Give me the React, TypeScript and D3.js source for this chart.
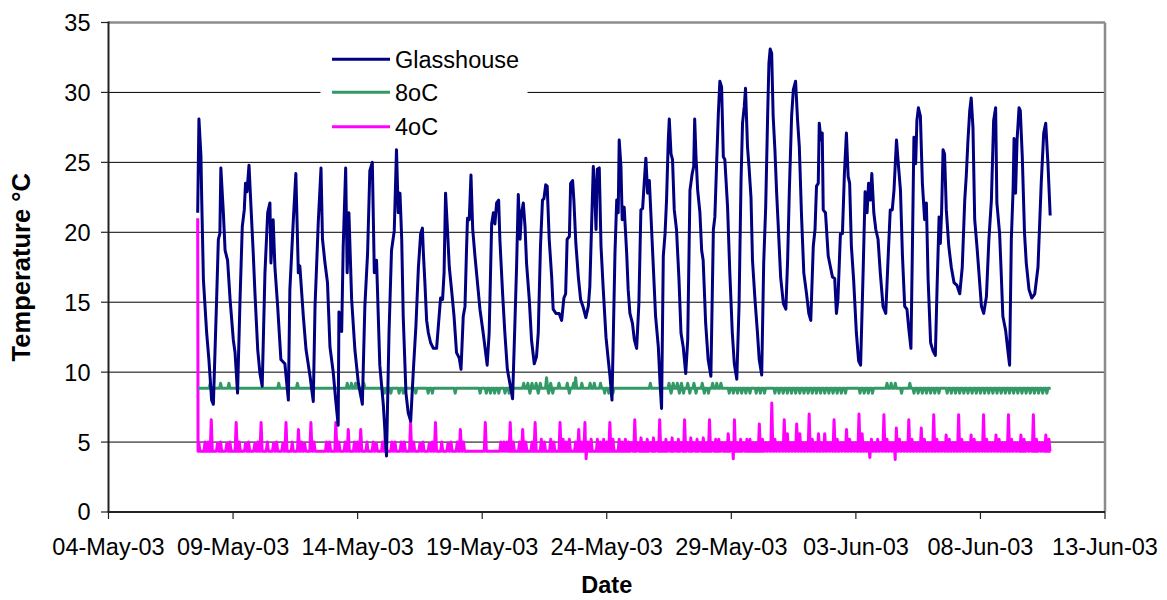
import React from "react";
import * as d3 from "d3";

// ---------- data ----------
const xTickLabels = ["04-May-03", "09-May-03", "14-May-03", "19-May-03", "24-May-03", "29-May-03", "03-Jun-03", "08-Jun-03", "13-Jun-03"];
const yTicks = [0, 5, 10, 15, 20, 25, 30, 35];
const seriesNames = ["Glasshouse", "8oC", "4oC"];
const seriesColors = ["#000080", "#339966", "#FF00FF"];

// Glasshouse: [days since 04-May-03 00:00, temperature °C]
const glasshouse: [number, number][] = [
  [3.58,21.4],[3.63,28.1],[3.71,25.5],[3.74,22.5],[3.81,16.6],[3.94,12.8],[4.03,10.9],[4.14,8.0],[4.21,7.7],[4.34,15.2],[4.41,19.5],[4.47,19.9],[4.51,24.6],[4.61,21.4],[4.68,18.7],[4.78,18.0],[4.88,15.2],[5.01,12.3],[5.08,11.4],[5.18,8.5],[5.28,15.2],[5.37,20.4],[5.45,21.6],[5.50,23.5],[5.56,22.9],[5.64,24.8],[5.72,21.8],[5.81,18.5],[5.88,15.6],[5.99,11.6],[6.08,9.9],[6.17,9.0],[6.28,17.1],[6.39,21.4],[6.48,22.1],[6.52,17.8],[6.61,20.9],[6.68,17.5],[6.79,14.7],[6.92,10.9],[7.08,10.6],[7.22,8.0],[7.28,15.9],[7.42,20.9],[7.52,24.2],[7.62,17.1],[7.68,17.6],[7.82,14.0],[7.93,11.6],[8.09,9.7],[8.22,7.9],[8.29,14.7],[8.42,20.7],[8.53,24.6],[8.59,19.5],[8.69,17.8],[8.79,16.4],[8.89,11.8],[9.02,10.0],[9.12,8.0],[9.22,6.2],[9.25,14.3],[9.36,12.9],[9.42,18.9],[9.52,24.6],[9.58,17.1],[9.65,21.4],[9.76,15.2],[9.89,11.6],[10.03,9.2],[10.19,7.7],[10.29,14.7],[10.40,18.5],[10.49,24.4],[10.59,25.0],[10.67,17.1],[10.76,18.0],[10.89,10.5],[11.03,7.7],[11.16,4.0],[11.26,12.8],[11.36,18.7],[11.47,20.1],[11.56,25.9],[11.63,21.4],
  [11.70,22.8],[11.77,19.5],[11.83,14.0],[11.94,8.5],[12.03,7.1],[12.13,6.5],[12.23,9.9],[12.34,13.3],[12.44,17.5],[12.53,19.9],[12.60,20.3],[12.64,18.5],[12.70,16.4],[12.77,13.7],[12.84,12.8],[12.93,12.1],[13.04,11.7],[13.17,11.7],[13.28,14.2],[13.33,15.3],[13.41,15.2],[13.47,17.1],[13.53,22.8],[13.60,20.4],[13.68,17.5],[13.77,15.9],[13.87,14.0],[13.97,11.4],[14.08,11.0],[14.15,10.2],[14.24,14.0],[14.31,14.7],[14.37,18.7],[14.41,21.0],[14.48,20.9],[14.55,24.1],[14.62,20.2],[14.71,18.3],[14.80,16.6],[14.91,14.5],[15.04,12.8],[15.20,10.5],[15.28,12.8],[15.38,20.6],[15.45,21.4],[15.51,20.6],[15.58,22.1],[15.66,22.3],[15.71,19.5],[15.82,15.6],[15.91,12.8],[16.01,10.2],[16.11,9.2],[16.22,8.1],[16.31,13.3],[16.38,17.5],[16.45,22.7],[16.52,19.5],[16.58,21.4],[16.65,22.1],[16.72,20.4],[16.78,17.8],[16.89,15.2],[16.98,12.3],[17.09,10.6],[17.18,11.1],[17.25,12.8],[17.34,19.0],[17.42,22.3],[17.48,22.4],[17.55,23.4],[17.61,23.3],[17.69,19.5],[17.79,16.8],[17.85,14.5],[17.96,14.2],[18.09,14.2],[18.19,13.7],[18.28,15.3],[18.35,15.6],[18.41,19.5],[18.50,19.7],[18.55,23.5],[18.63,23.7],[18.68,22.3],[18.76,19.2],[18.86,16.8],[18.95,15.2],[19.06,14.6],[19.16,13.9],[19.26,14.7],[19.32,16.1],[19.39,20.4],[19.46,24.7],[19.52,22.8],[19.57,20.2],[19.62,24.5],[19.70,24.6],[19.77,19.0],[19.86,15.9],[19.97,12.5],[20.06,10.9],[20.13,9.7],[20.21,8.0],[20.26,12.3],
  [20.33,18.5],[20.40,22.3],[20.46,21.4],[20.50,26.6],[20.57,24.7],[20.62,20.9],[20.70,21.8],[20.80,18.5],[20.86,15.9],[20.93,14.2],[21.03,13.5],[21.11,12.3],[21.20,11.7],[21.29,14.9],[21.37,21.6],[21.44,21.7],[21.51,23.7],[21.57,25.3],[21.64,22.8],[21.71,23.7],[21.77,21.4],[21.87,17.5],[21.96,14.0],[22.07,11.8],[22.14,9.2],[22.20,7.4],[22.27,18.3],[22.34,19.9],[22.40,22.3],[22.47,26.6],[22.51,28.1],[22.58,25.6],[22.64,25.2],[22.71,21.6],[22.80,20.2],[22.90,16.6],[22.98,12.8],[23.07,11.8],[23.17,9.9],[23.25,12.3],[23.34,23.0],[23.43,24.2],[23.49,24.7],[23.53,28.1],[23.58,25.5],[23.65,23.0],[23.74,21.4],[23.81,18.7],[23.87,18.0],[23.97,13.5],[24.07,10.9],[24.18,9.7],[24.28,20.2],[24.34,21.1],[24.41,24.9],[24.48,28.5],[24.54,30.8],[24.61,30.4],[24.68,25.4],[24.74,25.2],[24.85,21.8],[24.94,17.1],[25.04,12.8],[25.12,10.6],[25.22,9.5],[25.31,14.7],[25.39,23.7],[25.45,27.8],[25.52,29.0],[25.57,30.3],[25.65,26.1],[25.71,24.7],[25.79,22.5],[25.85,18.0],[25.95,15.2],[26.05,12.8],[26.12,10.9],[26.22,9.8],[26.30,17.8],[26.38,21.8],[26.46,28.5],[26.51,32.1],[26.56,33.1],[26.62,32.8],[26.68,28.3],[26.75,25.9],[26.82,22.8],[26.88,20.6],[26.98,16.8],[27.09,14.9],[27.19,14.5],[27.26,18.0],[27.33,23.0],[27.42,28.3],[27.49,30.2],[27.58,30.8],[27.66,28.0],[27.73,26.1],[27.82,21.1],[27.91,17.1],[28.02,15.6],[28.11,14.2],[28.19,13.7],[28.29,19.0],[28.36,20.2],[28.42,23.3],[28.49,23.5],[28.53,27.8],[28.60,26.6],[28.65,27.1],[28.69,21.6],[28.78,21.4],[28.89,18.3],
  [29.06,16.8],[29.15,16.7],[29.22,14.2],[29.28,15.2],[29.38,19.9],[29.46,19.9],[29.54,24.2],[29.62,27.1],[29.69,24.0],[29.75,23.5],[29.82,19.0],[29.91,16.6],[30.02,12.8],[30.11,10.8],[30.19,10.5],[30.29,17.1],[30.37,22.9],[30.45,21.4],[30.51,23.5],[30.58,22.3],[30.64,24.2],[30.72,21.4],[30.80,20.2],[30.89,19.5],[30.98,17.1],[31.09,14.7],[31.20,14.2],[31.29,18.0],[31.38,21.6],[31.46,21.6],[31.53,23.0],[31.63,26.6],[31.69,25.2],[31.79,23.0],[31.87,18.3],[31.96,14.7],[32.05,14.5],[32.13,13.0],[32.21,11.7],[32.27,19.0],[32.33,26.8],[32.40,24.9],[32.45,28.0],[32.51,28.9],[32.59,28.3],[32.67,23.5],[32.76,20.9],[32.83,22.1],[32.90,16.6],[33.00,12.1],[33.10,11.5],[33.19,11.2],[33.26,16.1],[33.34,21.1],[33.39,19.2],[33.44,21.4],[33.50,25.9],[33.56,25.6],[33.63,21.6],[33.73,19.0],[33.83,17.5],[33.94,16.4],[34.06,16.2],[34.17,15.6],[34.27,17.5],[34.37,22.3],[34.43,24.0],[34.50,26.6],[34.57,28.7],[34.63,29.6],[34.70,27.5],[34.77,20.9],[34.86,19.0],[34.94,17.1],[35.04,14.7],[35.13,14.2],[35.24,15.4],[35.34,19.5],
  [35.44,22.3],[35.53,28.0],[35.61,28.9],[35.66,22.1],[35.77,19.9],[35.84,16.8],[35.90,14.0],[36.01,13.0],[36.11,11.4],[36.17,10.5],[36.24,19.5],[36.31,23.0],[36.35,26.7],[36.41,22.8],[36.47,26.6],[36.55,28.9],[36.60,28.7],[36.68,25.4],[36.77,19.9],[36.84,17.8],[36.95,15.9],[37.06,15.3],[37.18,15.6],[37.31,17.5],[37.44,23.5],[37.54,27.1],[37.62,27.8],[37.71,24.9],[37.80,21.2],
];

// logger period for the two cold rooms (days since 04-May-03)
const coldStart = 3.59;
const coldEnd = 37.82;
const firstDay = 3; // row 0 of the slot tables = 07-May-03

// 8oC room: steady reading, with departures at 2-hourly slots (0 = steady reading)
const eightBase = 8.85;
const eightSlots: number[][] = [
  [0,0,0,0,0,0,0,0,0,0,0,0],
  [0,9.2,0,0,0,0,9.2,0,0,0,9.2,0],
  [0,0,0,0,0,0,0,0,0,0,0,0],
  [0,0,0,0,0,0,0,0,0,0,9.2,0],
  [0,0,0,0,0,0,0,9.2,0,0,0,0],
  [0,0,0,0,0,0,0,0,0,0,0,0],
  [0,0,0,0,0,0,0,9.2,0,9.2,0,9.2],
  [0,0,0,9.2,0,0,0,0,0,0,0,0],
  [0,8.5,0,0,8.5,0,0,0,8.5,0,8.5,0],
  [0,0,0,0,8.5,0,0,0,0,0,8.5,0],
  [8.5,0,0,0,0,0,0,0,0,0,0,8.5],
  [0,0,0,0,0,0,0,0,0,0,0,8.5],
  [0,0,8.5,0,8.5,0,8.5,0,8.5,0,0,8.5],
  [0,8.5,0,0,0,0,0,0,9.2,0,9.2,8.5],
  [9.2,0,9.2,8.5,9.2,0,0,9.6,8.5,9.2,8.5,0],
  [0,9.2,0,0,0,9.2,8.5,0,9.2,9.6,0,0],
  [9.2,0,0,0,9.2,0,9.2,0,0,9.2,0,8.5],
  [0,8.5,0,8.5,0,0,0,0,0,0,0,0],
  [0,0,0,0,0,0,0,0,0,9.2,0,0],
  [0,0,0,0,0,0,9.2,8.5,9.2,0,9.2,8.5],
  [9.2,8.5,0,9.2,8.5,0,9.2,8.5,0,0,9.2,8.5],
  [0,8.5,0,9.2,0,9.2,0,9.2,0,0,0,8.5],
  [0,8.5,0,8.5,0,8.5,0,8.5,0,8.5,0,0],
  [8.5,0,8.5,0,8.5,0,0,0,0,8.5,0,8.5],
  [0,8.5,0,8.5,0,8.5,0,8.5,0,8.5,0,8.5],
  [0,8.5,0,8.5,0,8.5,0,8.5,0,8.5,0,8.5],
  [0,8.5,0,8.5,0,8.5,0,8.5,0,0,0,0],
  [0,0,8.5,0,8.5,0,8.5,0,8.5,0,0,0],
  [0,0,0,9.2,0,9.2,0,9.2,0,0,8.5,0],
  [0,0,9.2,0,8.5,0,8.5,0,8.5,0,8.5,0],
  [8.5,0,8.5,0,8.5,0,0,0,8.5,0,8.5,0],
  [8.5,0,8.5,0,8.5,0,8.5,0,8.5,0,8.5,0],
  [8.5,0,8.5,0,8.5,0,8.5,0,8.5,0,8.5,0],
  [8.5,0,8.5,0,8.5,0,8.5,0,8.5,0,8.5,0],
  [8.5,0,8.5,0,8.5,0,8.5,0,8.5,0,8.5,0],
];

// 4oC room: first reading, steady level, 3-hourly spikes (0 = no spike) and a few dips
const fourFirst = 21.0;
const fourBase = 4.35;
const fourSlots: number[][] = [
  [0,0,0,0,0,5.0,0,5.0],
  [5.0,6.6,0,4.9,5.0,0,4.9,5.0],
  [0,6.4,5.0,0,4.9,5.0,0,4.9],
  [5.0,6.4,0,5.0,0,4.9,5.0,0],
  [4.9,6.4,0,5.0,0,5.9,5.0,4.9],
  [0,6.4,5.0,0,0,0,5.0,5.0],
  [0,6.4,5.0,0,5.0,5.9,0,5.0],
  [5.0,5.9,0,5.0,0,5.0,4.9,0],
  [5.0,6.4,0,5.0,5.0,0,5.0,5.0],
  [0,6.4,5.0,0,4.9,5.0,0,4.9],
  [5.0,6.4,0,5.0,0,4.9,5.0,0],
  [5.0,5.9,5.0,0,0,0,0,0],
  [0,6.4,0,0,0,0,5.0,5.0],
  [5.0,6.4,5.0,0,5.0,5.9,5.0,0],
  [5.0,6.4,0,5.2,5.0,0,5.2,5.0],
  [0,6.4,5.2,5.0,5.2,0,5.0,5.9],
  [5.0,6.4,5.0,5.2,0,5.2,5.0,5.2],
  [5.0,6.4,5.2,0,5.2,5.0,5.2,5.0],
  [4.95,6.6,4.95,5.3,4.95,5.2,4.95,5.3],
  [4.95,6.6,4.95,5.2,4.95,5.3,4.95,5.2],
  [4.95,6.6,4.95,5.3,4.95,5.2,4.95,5.3],
  [4.95,6.6,4.95,5.2,5.2,4.95,4.95,5.6],
  [4.95,6.6,4.95,5.2,4.95,5.2,5.2,4.95],
  [4.95,6.3,5.2,4.95,4.95,7.8,5.2,4.95],
  [4.95,6.6,5.6,4.95,4.95,6.3,5.6,4.95],
  [4.95,7.0,5.2,4.95,5.6,4.95,5.6,4.95],
  [4.95,6.6,5.2,4.95,4.95,5.9,5.2,4.95],
  [4.95,7.0,5.6,4.95,4.95,5.2,4.95,5.2],
  [4.95,6.95,5.2,4.95,4.95,6.0,5.2,4.95],
  [4.95,6.6,5.2,4.95,4.95,6.0,5.2,4.95],
  [4.95,6.95,5.2,4.95,4.95,5.5,5.2,4.95],
  [4.95,6.95,5.2,4.95,4.95,5.5,5.2,4.95],
  [4.95,6.95,5.2,4.95,4.95,5.5,5.2,4.95],
  [4.95,6.95,5.2,4.95,4.95,5.5,5.2,4.95],
  [4.95,6.95,5.2,4.95,4.95,5.5,5.2],
];
const fourDips: [number, number][] = [[19.17, 3.8], [25.08, 3.8], [30.56, 3.9], [31.58, 3.75]];

// ---------- building the series from the tables ----------
type Pt = [number, number];

function slotSeries(rows: number[][], perDay: number, base: number, halfWidth: number): Pt[] {
  const pts: Pt[] = [];
  rows.forEach((row, i) => {
    row.forEach((v, k) => {
      const t = firstDay + i + k / perDay;
      if (t < coldStart || t > coldEnd) return;
      if (v) {
        pts.push([t - halfWidth, base], [t, v], [t + halfWidth, base]);
      } else {
        pts.push([t, base]);
      }
    });
  });
  return pts;
}

const eightSeries: Pt[] = [[coldStart, eightBase], ...slotSeries(eightSlots, 12, eightBase, 1 / 24), [coldEnd, eightBase]]
  .filter((p) => p[0] >= coldStart && p[0] <= coldEnd)
  .sort((a, b) => a[0] - b[0]) as Pt[];

const fourSeries: Pt[] = (() => {
  const body: Pt[] = [...slotSeries(fourSlots, 8, fourBase, 1 / 24)];
  fourDips.forEach(([t, v]) => body.push([t - 1 / 48, fourBase], [t, v], [t + 1 / 48, fourBase]));
  body.push([coldEnd, fourBase]);
  const sorted = body.filter((p) => p[0] > coldStart + 0.005 && p[0] <= coldEnd).sort((a, b) => a[0] - b[0]);
  return [[coldStart - 0.01, fourFirst], [coldStart + 0.005, fourBase], ...sorted] as Pt[];
})();

// ---------- layout ----------
const W = 1167;
const H = 600;
const plot = { left: 108.5, right: 1105, top: 22.5, bottom: 512 };
const FONT = "'Liberation Sans', Arial, Helvetica, sans-serif";

const parseDate = d3.timeParse("%d-%b-%y");
const origin = parseDate(xTickLabels[0]) as Date;
const toDate = (d: number) => new Date(origin.getTime() + d * 86400000);

export default function App() {
  const x = d3
    .scaleTime()
    .domain([parseDate(xTickLabels[0]) as Date, parseDate(xTickLabels[xTickLabels.length - 1]) as Date])
    .range([plot.left, plot.right]);
  const y = d3.scaleLinear().domain([0, 35]).range([plot.bottom, plot.top]);

  const line = d3
    .line<Pt>()
    .x((p) => x(toDate(p[0])))
    .y((p) => y(p[1]));

  const series = [glasshouse, eightSeries, fourSeries];
  const legendRows = [59.3, 92.3, 126.7];

  return (
    <svg width={W} height={H} style={{ position: "absolute", left: 0, top: 0, background: "#fff" }} fontFamily={FONT}>
      <rect x={0} y={0} width={W} height={H} fill="#fff" />
      {/* gridlines */}
      {yTicks
        .filter((t) => t > 0 && t < 35)
        .map((t) => (
          <line key={"g" + t} x1={plot.left} x2={plot.right} y1={y(t)} y2={y(t)} stroke="#000" strokeWidth={1} />
        ))}
      {/* plot frame (top & right) */}
      <line x1={plot.left} x2={plot.right} y1={plot.top} y2={plot.top} stroke="#8c8c8c" strokeWidth={2.5} />
      <line x1={plot.right} x2={plot.right} y1={plot.top} y2={plot.bottom} stroke="#8c8c8c" strokeWidth={2.5} />

      {/* series */}
      {[2, 1, 0].map((i) => (
        <path
          key={"s" + i}
          d={line(series[i]) || ""}
          fill="none"
          stroke={seriesColors[i]}
          strokeWidth={3}
          strokeLinejoin="round"
        />
      ))}

      {/* axes */}
      <line x1={plot.left} x2={plot.left} y1={plot.top - 1} y2={plot.bottom} stroke="#222" strokeWidth={2} />
      <line x1={plot.left - 1} x2={plot.right} y1={plot.bottom} y2={plot.bottom} stroke="#222" strokeWidth={2} />
      {yTicks.map((t) => (
        <g key={"y" + t}>
          <line x1={plot.left - 7.5} x2={plot.left} y1={y(t)} y2={y(t)} stroke="#222" strokeWidth={1.2} />
          <text x={90.5} y={y(t)} dy="0.36em" textAnchor="end" fontSize={23.5} fill="#000">
            {t}
          </text>
        </g>
      ))}
      {xTickLabels.map((lab) => {
        const xv = x(parseDate(lab) as Date);
        return (
          <g key={lab}>
            <line x1={xv} x2={xv} y1={plot.bottom} y2={plot.bottom + 7} stroke="#222" strokeWidth={1.2} />
            <text x={xv} y={555} textAnchor="middle" fontSize={23.5} fill="#000">
              {lab}
            </text>
          </g>
        );
      })}

      {/* axis titles */}
      <text x={(plot.left + plot.right) / 2} y={593} textAnchor="middle" fontSize={23.5} fontWeight="bold" fill="#000">
        Date
      </text>
      <text
        transform={`translate(30,${(plot.top + plot.bottom) / 2}) rotate(-90)`}
        textAnchor="middle"
        fontSize={25.5}
        fontWeight="bold"
        fill="#000"
      >
        Temperature °C
      </text>

      {/* legend */}
      <rect x={320.5} y={40} width={207} height={104} fill="#fff" />
      {seriesNames.map((name, i) => (
        <g key={name}>
          <line x1={332} x2={390} y1={legendRows[i]} y2={legendRows[i]} stroke={seriesColors[i]} strokeWidth={3} />
          <text x={395} y={legendRows[i] + 8.6} fontSize={23.5} fill="#000">
            {name}
          </text>
        </g>
      ))}
    </svg>
  );
}
